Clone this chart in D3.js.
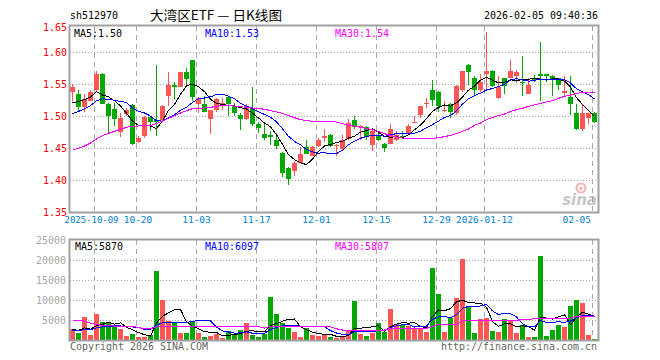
<!DOCTYPE html>
<html>
<head>
<meta charset="utf-8">
<script src="https://cdn.jsdelivr.net/npm/d3@7/dist/d3.min.js"></script>
<style>
  body { margin: 0; background: #fff; }
  svg { display: block; }
</style>
</head>
<body>
<svg id="chart" width="660" height="360"></svg>
<script>
// trading days shown on the chart
const dates = [
  "2025-09-25","2025-09-26","2025-09-29","2025-09-30","2025-10-09","2025-10-10","2025-10-13","2025-10-14","2025-10-15","2025-10-16",
  "2025-10-17","2025-10-20","2025-10-21","2025-10-22","2025-10-23","2025-10-24","2025-10-27","2025-10-28","2025-10-29","2025-10-30",
  "2025-10-31","2025-11-03","2025-11-04","2025-11-05","2025-11-06","2025-11-07","2025-11-10","2025-11-11","2025-11-12","2025-11-13",
  "2025-11-14","2025-11-17","2025-11-18","2025-11-19","2025-11-20","2025-11-21","2025-11-24","2025-11-25","2025-11-26","2025-11-27",
  "2025-11-28","2025-12-01","2025-12-02","2025-12-03","2025-12-04","2025-12-05","2025-12-08","2025-12-09","2025-12-10","2025-12-11",
  "2025-12-12","2025-12-15","2025-12-16","2025-12-17","2025-12-18","2025-12-19","2025-12-22","2025-12-23","2025-12-24","2025-12-25",
  "2025-12-26","2025-12-29","2025-12-30","2025-12-31","2026-01-05","2026-01-06","2026-01-07","2026-01-08","2026-01-09","2026-01-12",
  "2026-01-13","2026-01-14","2026-01-15","2026-01-16","2026-01-19","2026-01-20","2026-01-21","2026-01-22","2026-01-23","2026-01-26",
  "2026-01-27","2026-01-28","2026-01-29","2026-01-30","2026-02-02","2026-02-03","2026-02-04","2026-02-05"
];

const opens = [
  1.537,1.534,1.514,1.524,1.541,1.566,1.519,1.511,1.475,1.503,
  1.517,1.460,1.468,1.498,1.494,1.494,1.531,1.549,1.546,1.568,
  1.587,1.519,1.518,1.496,1.509,1.516,1.529,1.516,1.501,1.495,
  1.512,1.487,1.472,1.471,1.463,1.442,1.419,1.414,1.427,1.452,
  1.438,1.453,1.465,1.471,1.454,1.448,1.464,1.494,1.483,1.483,
  1.455,1.469,1.457,1.457,1.463,1.469,1.472,1.490,1.502,1.518,
  1.540,1.538,1.508,1.518,1.505,1.540,1.580,1.559,1.540,1.566,
  1.571,1.528,1.559,1.560,1.563,1.553,1.535,1.559,1.565,1.565,
  1.563,1.559,1.536,1.530,1.504,1.479,1.497,1.505
];
const highs = [
  1.550,1.541,1.534,1.540,1.571,1.567,1.520,1.520,1.504,1.513,
  1.518,1.468,1.500,1.499,1.580,1.517,1.568,1.553,1.569,1.575,
  1.588,1.530,1.531,1.510,1.528,1.528,1.531,1.520,1.505,1.518,
  1.546,1.490,1.490,1.476,1.473,1.443,1.420,1.429,1.452,1.462,
  1.453,1.466,1.480,1.472,1.457,1.470,1.495,1.500,1.486,1.484,
  1.481,1.476,1.458,1.488,1.476,1.476,1.488,1.500,1.516,1.528,
  1.557,1.539,1.524,1.520,1.549,1.571,1.582,1.562,1.565,1.632,
  1.572,1.562,1.560,1.588,1.572,1.593,1.559,1.564,1.615,1.566,
  1.564,1.560,1.562,1.562,1.518,1.518,1.504,1.506
];
const lows = [
  1.524,1.508,1.507,1.523,1.538,1.518,1.472,1.484,1.467,1.500,
  1.455,1.458,1.466,1.476,1.468,1.493,1.515,1.527,1.545,1.549,
  1.523,1.505,1.506,1.472,1.507,1.510,1.500,1.500,1.478,1.494,
  1.485,1.473,1.463,1.455,1.448,1.404,1.392,1.406,1.426,1.440,
  1.437,1.452,1.459,1.452,1.437,1.446,1.463,1.479,1.463,1.463,
  1.445,1.461,1.443,1.456,1.461,1.464,1.471,1.489,1.497,1.513,
  1.515,1.507,1.506,1.497,1.502,1.538,1.549,1.533,1.538,1.541,
  1.546,1.527,1.535,1.559,1.552,1.531,1.534,1.553,1.523,1.553,
  1.531,1.540,1.532,1.502,1.478,1.476,1.487,1.489
];
const closes = [
  1.546,1.514,1.527,1.538,1.566,1.519,1.500,1.496,1.497,1.510,
  1.457,1.466,1.498,1.490,1.491,1.516,1.549,1.545,1.568,1.558,
  1.529,1.528,1.507,1.509,1.526,1.521,1.518,1.505,1.496,1.515,
  1.487,1.482,1.465,1.467,1.453,1.411,1.402,1.426,1.441,1.441,
  1.452,1.463,1.469,1.453,1.455,1.462,1.489,1.483,1.485,1.467,
  1.476,1.462,1.450,1.479,1.471,1.467,1.485,1.491,1.515,1.521,
  1.525,1.515,1.510,1.506,1.547,1.571,1.568,1.541,1.553,1.571,
  1.547,1.546,1.547,1.571,1.568,1.551,1.549,1.557,1.563,1.563,
  1.558,1.549,1.539,1.518,1.479,1.505,1.504,1.490
];
// closes of the sessions just before the window (for the MA5 / MA10 warm-up)
const priorCloses = [1.480,1.485,1.490,1.487,1.491,1.505,1.512,1.518,1.523];
// MA30 of price
const ma30Price = [
  1.4464,1.4495,1.4531,1.4578,1.4641,1.4693,1.4729,1.4760,1.4792,1.4823,
  1.4839,1.4844,1.4849,1.4854,1.4880,1.4922,1.4964,1.5005,1.5047,1.5083,
  1.5115,1.5120,1.5125,1.5135,1.5151,1.5167,1.5167,1.5156,1.5146,1.5135,
  1.5125,1.5120,1.5104,1.5083,1.5063,1.5042,1.5005,1.4974,1.4943,1.4927,
  1.4917,1.4911,1.4911,1.4911,1.4906,1.4880,1.4854,1.4839,1.4823,1.4807,
  1.4786,1.4760,1.4724,1.4693,1.4672,1.4656,1.4651,1.4646,1.4646,1.4646,
  1.4651,1.4661,1.4677,1.4698,1.4724,1.4760,1.4797,1.4854,1.4891,1.4943,
  1.4979,1.5005,1.5031,1.5068,1.5099,1.5120,1.5151,1.5172,1.5198,1.5219,
  1.5240,1.5276,1.5307,1.5328,1.5349,1.5370,1.5375,1.5375
];

const volumes = [
  2667,1667,5667,1250,6500,4417,4417,3333,2750,1000,
  1500,667,667,1167,17250,10000,4833,4333,1750,1750,
  4583,1667,667,1000,1417,583,2250,1417,2500,4250,
  1167,667,1500,10667,6417,4167,3083,1917,833,2917,
  1167,1000,1250,750,417,667,2500,9750,1500,1000,
  1667,4333,2083,7750,3917,3750,3500,2917,2917,2083,
  18083,11500,2083,5417,10583,20250,8167,1833,5167,5583,
  2333,2083,5167,5000,1833,3750,833,833,21035,1000,
  2500,3750,3333,8500,10000,9333,1250,265
];
const priorVolumes = [1500,2000,1800,2200,1667,3000,2500,2800,2367];
// MA30 of volume
const ma30Volume = [
  5000,5000,4700,4200,3900,3600,3550,3500,3500,3500,
  3400,3100,2800,2750,3300,3500,3500,3500,3500,3500,
  3400,3350,3350,3350,3350,3350,3350,3350,3350,3350,
  3350,3350,2950,3500,3500,3500,3500,3500,3500,3500,
  3500,3500,3333,3300,2800,2500,2500,2500,2500,2500,
  2500,2500,2500,2917,2917,2917,2917,2917,2917,2917,
  3400,3917,3917,3917,3917,4833,4833,4833,4833,4833,
  4833,4833,4833,4833,4833,5167,5167,5300,5417,5417,
  5417,5417,5417,5417,6000,6000,5900,5807
];

const priceTicks = [1.35, 1.40, 1.45, 1.50, 1.55, 1.60, 1.65];
const volumeTicks = [0, 5000, 10000, 15000, 20000, 25000];
const dateTicks = ["2025-10-09","2025-10-20","2025-11-03","2025-11-17","2025-12-01","2025-12-15","2025-12-29","2026-01-12","2026-02-05"];
const dateTickLabels = ["2025-10-09","10-20","11-03","11-17","12-01","12-15","12-29","2026-01-12","02-05"];

const RED = "#ff5555", GREEN = "#00a800";
const MONO = "'DejaVu Sans Mono', 'Liberation Mono', monospace";

const svg = d3.select("#chart");

const left = 70, right = 598;
const priceTop = 26, priceBottom = 212;
const volTop = 240, volBottom = 340;

const x = d3.scaleBand().domain(dates).range([left, right]).padding(0);
const y = d3.scaleLinear().domain([1.35, 1.65]).range([212, 20]);
const yv = d3.scaleLinear().domain([0, 25000]).range([volBottom, volTop]);
const cx = d => x(d) + 2.5;

function movingAvg(values, prior, n) {
  const all = prior.concat(values);
  return values.map((v, i) => d3.mean(all.slice(i + prior.length - n + 1, i + prior.length + 1)));
}

function label(g, str, px, py, anchor, color, size) {
  return g.append("text")
    .attr("x", px).attr("y", py).attr("dy", "0.35em")
    .attr("text-anchor", anchor)
    .attr("fill", color)
    .style("font-family", MONO)
    .style("font-size", (size || 11) + "px")
    .attr("textLength", str.length * 6)
    .attr("lengthAdjust", "spacingAndGlyphs")
    .text(str);
}

const isUp = i => closes[i] >= opens[i];

// ---------- header ----------
const head = svg.append("g");
label(head, "sh512970", left, 15.5, "start", "#000", 11);
head.append("text")
  .attr("x", 150).attr("y", 15.5).attr("dy", "0.36em")
  .attr("fill", "#000")
  .style("font-family", "'Noto Sans CJK SC', sans-serif")
  .style("font-size", "13px")
  .attr("textLength", 132).attr("lengthAdjust", "spacingAndGlyphs")
  .text("大湾区ETF — 日K线图");
label(head, "2026-02-05 09:40:36", right, 15.5, "end", "#000", 11);

// ---------- grids ----------
const grid = svg.append("g").attr("shape-rendering", "crispEdges");

grid.selectAll(".hp")
  .data(priceTicks.filter(t => t > 1.35 && t < 1.64))
  .enter().append("line")
  .attr("x1", left).attr("x2", right)
  .attr("y1", d => Math.round(y(d)) + 0.5).attr("y2", d => Math.round(y(d)) + 0.5)
  .attr("stroke", "#a8a8a8").attr("stroke-dasharray", "1,2");

grid.selectAll(".hv")
  .data(volumeTicks.filter(t => t > 0 && t < 25000))
  .enter().append("line")
  .attr("x1", left).attr("x2", right)
  .attr("y1", d => Math.round(yv(d)) + 0.5).attr("y2", d => Math.round(yv(d)) + 0.5)
  .attr("stroke", "#a8a8a8").attr("stroke-dasharray", "1,2");

[[priceTop, priceBottom], [volTop, volBottom]].forEach(([t, b]) => {
  grid.selectAll(null)
    .data(dateTicks)
    .enter().append("line")
    .attr("x1", d => x(d) + 0.5).attr("x2", d => x(d) + 0.5)
    .attr("y1", t).attr("y2", b)
    .attr("stroke", "#a8a8a8").attr("stroke-dasharray", "5,4");
});

// sina watermark
const wm = svg.append("g").attr("opacity", 0.5);
wm.append("circle").attr("cx", 581).attr("cy", 188).attr("r", 4.5)
  .attr("fill", "none").attr("stroke", "#f07070").attr("stroke-width", 2.2);
wm.append("circle").attr("cx", 581).attr("cy", 188.5).attr("r", 1.8).attr("fill", "#f07070");
wm.append("text")
  .attr("x", 597).attr("y", 205).attr("text-anchor", "end")
  .attr("fill", "#909090")
  .style("font-family", "'DejaVu Sans', sans-serif")
  .style("font-size", "15px").style("font-weight", "bold").style("font-style", "italic")
  .text("sina");

// ---------- candles ----------
const candles = svg.append("g").attr("shape-rendering", "crispEdges");
const idx = d3.range(dates.length);

candles.selectAll(".wick")
  .data(idx).enter().append("line")
  .attr("x1", i => cx(dates[i])).attr("x2", i => cx(dates[i]))
  .attr("y1", i => y(highs[i])).attr("y2", i => y(lows[i]))
  .attr("stroke", i => isUp(i) ? RED : GREEN);

candles.selectAll(".body")
  .data(idx).enter().append("rect")
  .attr("x", i => x(dates[i]))
  .attr("width", 5)
  .attr("y", i => y(Math.max(opens[i], closes[i])))
  .attr("height", i => Math.max(1, y(Math.min(opens[i], closes[i])) - y(Math.max(opens[i], closes[i]))))
  .attr("fill", i => isUp(i) ? RED : GREEN);

// price MAs
const ma5 = movingAvg(closes, priorCloses, 5);
const ma10 = movingAvg(closes, priorCloses, 10);
const priceLine = d3.line().x((d, i) => cx(dates[i])).y(d => y(d));
[[ma5, "#000"], [ma10, "#0000ff"], [ma30Price, "#ff00ff"]].forEach(([s, c]) => {
  svg.append("path").datum(s)
    .attr("d", priceLine)
    .attr("fill", "none").attr("stroke", c).attr("stroke-width", 1)
    .attr("shape-rendering", "crispEdges");
});

// ---------- volume ----------
const vol = svg.append("g").attr("shape-rendering", "crispEdges");
vol.selectAll("rect")
  .data(idx).enter().append("rect")
  .attr("x", i => x(dates[i]))
  .attr("width", 5)
  .attr("y", i => yv(volumes[i]))
  .attr("height", i => volBottom - yv(volumes[i]))
  .attr("fill", i => isUp(i) ? RED : GREEN);

const vma5 = movingAvg(volumes, priorVolumes, 5);
const vma10 = movingAvg(volumes, priorVolumes, 10);
const volLine = d3.line().x((d, i) => cx(dates[i])).y(d => yv(d));
[[vma5, "#000"], [vma10, "#0000ff"], [ma30Volume, "#ff00ff"]].forEach(([s, c]) => {
  svg.append("path").datum(s)
    .attr("d", volLine)
    .attr("fill", "none").attr("stroke", c).attr("stroke-width", 1)
    .attr("shape-rendering", "crispEdges");
});

// ---------- frames ----------
svg.append("rect").attr("x", left - 0.5).attr("y", priceTop - 0.5)
  .attr("width", right - left + 1).attr("height", priceBottom - priceTop + 1)
  .attr("fill", "none").attr("stroke", "#a0a0a0").attr("stroke-width", 2);
svg.append("rect").attr("x", left - 0.5).attr("y", volTop - 0.5)
  .attr("width", right - left + 1).attr("height", volBottom - volTop + 1)
  .attr("fill", "none").attr("stroke", "#a0a0a0").attr("stroke-width", 2);

// ---------- axes ----------
const axisP = svg.append("g")
  .attr("transform", `translate(${left - 3},0)`)
  .call(d3.axisLeft(y).tickValues(priceTicks).tickSize(0).tickPadding(0).tickFormat(d3.format(".2f")));
axisP.select(".domain").remove();
axisP.selectAll(".tick")
  .attr("transform", d => `translate(0,${Math.max(y(d), 27.5)})`);
axisP.selectAll("text")
  .attr("fill", "#ff0000")
  .style("font-family", MONO).style("font-size", "11px")
  .attr("textLength", 24).attr("lengthAdjust", "spacingAndGlyphs");

const axisV = svg.append("g")
  .attr("transform", `translate(${left - 4},0)`)
  .call(d3.axisLeft(yv).tickValues(volumeTicks.filter(t => t > 0)).tickSize(0).tickPadding(0).tickFormat(d3.format("d")));
axisV.select(".domain").remove();
axisV.selectAll("text")
  .attr("fill", "#a8a8a8")
  .style("font-family", MONO).style("font-size", "11px")
  .attr("textLength", d => String(d).length * 6).attr("lengthAdjust", "spacingAndGlyphs");

// first label is squeezed a little so it does not run into "10-20"
const tickWidth = k => dateTickLabels[k].length * (k === 0 ? 5.4 : 5.7);
const axisX = svg.append("g")
  .attr("transform", `translate(0,${priceBottom + 4})`)
  .call(d3.axisBottom(x).tickValues(dateTicks).tickSize(0).tickPadding(0)
    .tickFormat(d => dateTickLabels[dateTicks.indexOf(d)]));
axisX.select(".domain").remove();
axisX.selectAll(".tick")
  .attr("transform", (d, k) => {
    let px = Math.min(x(d) + 0.5, right - 7 - tickWidth(k) / 2);
    if (k === 0) px -= 3;
    if (k === 1) px += 1.5;
    return `translate(${px},0)`;
  });
axisX.selectAll("text")
  .attr("fill", "#0080d0")
  .style("font-family", MONO).style("font-size", "9.5px")
  .attr("textLength", (d, k) => tickWidth(k))
  .attr("lengthAdjust", "spacingAndGlyphs");

// ---------- MA legends ----------
const leg = svg.append("g");
const fmt2 = d3.format(".2f");
label(leg, "MA5:" + fmt2(ma5[ma5.length - 1]), 74, 33, "start", "#000");
label(leg, "MA10:" + fmt2(ma10[ma10.length - 1]), 205, 33, "start", "#0000ff");
label(leg, "MA30:" + fmt2(ma30Price[ma30Price.length - 1]), 335, 33, "start", "#ff00ff");

label(leg, "MA5:" + Math.round(vma5[vma5.length - 1]), 75, 246.5, "start", "#000");
label(leg, "MA10:" + Math.round(vma10[vma10.length - 1]), 205, 246.5, "start", "#0000ff");
label(leg, "MA30:" + ma30Volume[ma30Volume.length - 1], 335, 246.5, "start", "#ff00ff");

// ---------- footer ----------
label(svg, "Copyright 2026 SINA.COM", left, 346, "start", "#666");
label(svg, "http://finance.sina.com.cn", right - 1, 346, "end", "#666");
</script>
</body>
</html>
